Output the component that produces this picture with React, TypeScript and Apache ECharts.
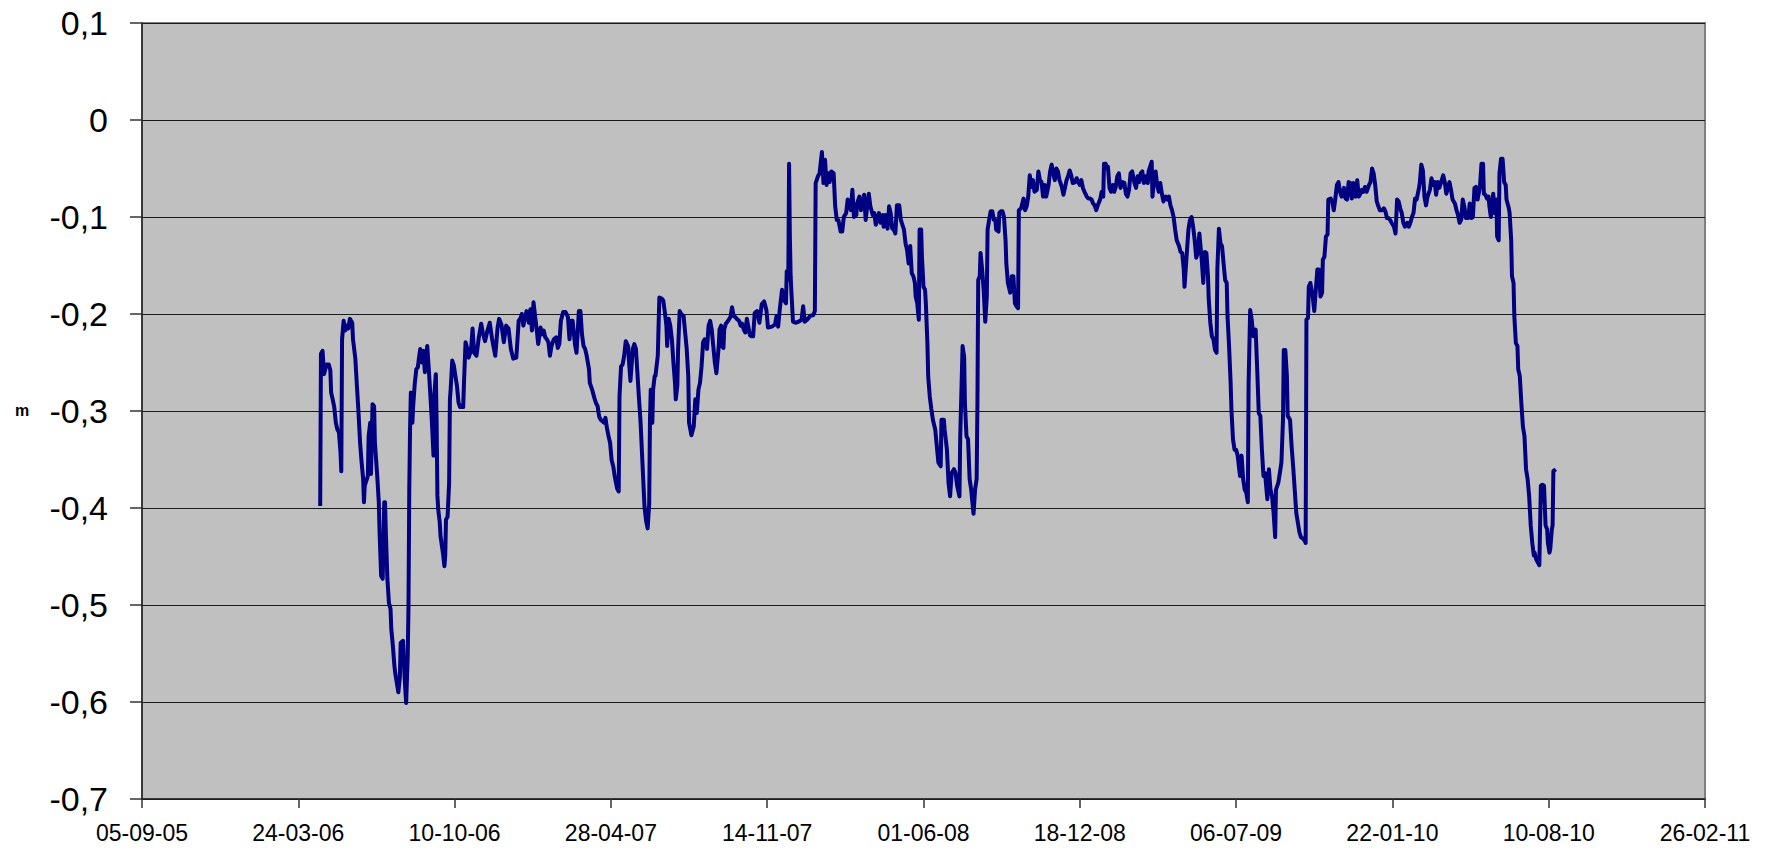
import React, { useEffect, useRef } from "react";
import * as echarts from "echarts";

// Dates are Excel serial day numbers (38600 = 05-09-05), levels in metres.
const period2006: [number, number][] = [
  [38828, -0.398], [38829, -0.241], [38831, -0.238], [38833, -0.262], [38836, -0.252], [38839, -0.252],
  [38841, -0.258], [38842, -0.281], [38844, -0.288], [38846, -0.296], [38848, -0.312], [38850, -0.319],
  [38852, -0.322], [38854, -0.343], [38855, -0.362], [38856, -0.226], [38858, -0.207], [38860, -0.217],
  [38862, -0.212], [38864, -0.215], [38866, -0.205], [38869, -0.209], [38870, -0.226], [38873, -0.246],
  [38875, -0.274], [38877, -0.301], [38879, -0.332], [38881, -0.353], [38883, -0.37], [38884, -0.394],
  [38885, -0.377], [38887, -0.372], [38889, -0.367], [38890, -0.326], [38892, -0.312], [38893, -0.365],
  [38895, -0.293], [38897, -0.295], [38898, -0.332], [38901, -0.367], [38903, -0.394], [38904, -0.425],
  [38906, -0.47], [38908, -0.473], [38910, -0.394], [38911, -0.394], [38912, -0.425], [38914, -0.473],
  [38916, -0.498], [38918, -0.504], [38919, -0.525], [38921, -0.542], [38923, -0.563], [38924, -0.57],
  [38926, -0.58], [38928, -0.59], [38930, -0.574], [38931, -0.539], [38934, -0.537], [38936, -0.574],
  [38938, -0.601], [38940, -0.553], [38941, -0.501], [38942, -0.381], [38943, -0.319], [38944, -0.281],
  [38946, -0.312], [38947, -0.295], [38949, -0.272], [38951, -0.257], [38953, -0.255], [38954, -0.248],
  [38956, -0.236], [38958, -0.25], [38960, -0.238], [38962, -0.26], [38964, -0.24], [38965, -0.233],
  [38967, -0.257], [38969, -0.284], [38971, -0.312], [38973, -0.346], [38974, -0.284], [38976, -0.262],
  [38977, -0.312], [38978, -0.387], [38979, -0.401], [38981, -0.415], [38982, -0.429], [38985, -0.446],
  [38987, -0.46], [38988, -0.449], [38989, -0.412], [38991, -0.409], [38993, -0.374], [38994, -0.288],
  [38995, -0.277], [38997, -0.248], [38999, -0.253], [39001, -0.264], [39003, -0.274], [39005, -0.291],
  [39007, -0.296], [39011, -0.296], [39012, -0.271], [39014, -0.229], [39016, -0.235], [39018, -0.245],
  [39021, -0.237], [39023, -0.215], [39025, -0.24], [39028, -0.243], [39031, -0.224], [39034, -0.21],
  [39036, -0.219], [39039, -0.228], [39042, -0.217], [39045, -0.209], [39048, -0.226], [39052, -0.243],
  [39055, -0.214], [39057, -0.205], [39060, -0.211], [39063, -0.229], [39066, -0.212], [39069, -0.215],
  [39072, -0.236], [39075, -0.246], [39079, -0.245], [39082, -0.207],
];

const period2007: [number, number][] = [
  [39084, -0.205], [39086, -0.2], [39088, -0.212], [39092, -0.197], [39095, -0.209], [39097, -0.195],
  [39099, -0.217], [39101, -0.188], [39103, -0.202], [39105, -0.216], [39107, -0.231], [39110, -0.214],
  [39112, -0.221], [39114, -0.217], [39116, -0.224], [39118, -0.226], [39120, -0.229], [39122, -0.243],
  [39124, -0.233], [39127, -0.226], [39130, -0.224], [39132, -0.235], [39134, -0.231], [39136, -0.207],
  [39139, -0.198], [39142, -0.198], [39145, -0.203], [39147, -0.226], [39149, -0.207], [39151, -0.207],
  [39154, -0.231], [39156, -0.24], [39159, -0.197], [39161, -0.197], [39163, -0.221], [39165, -0.233],
  [39167, -0.236], [39169, -0.243], [39172, -0.257], [39173, -0.271], [39176, -0.278], [39179, -0.287],
  [39181, -0.292], [39183, -0.295], [39185, -0.306], [39187, -0.309], [39191, -0.312], [39193, -0.307],
  [39195, -0.318], [39197, -0.326], [39199, -0.333], [39201, -0.351], [39203, -0.357], [39205, -0.368],
  [39208, -0.38], [39210, -0.383], [39211, -0.285], [39213, -0.254], [39215, -0.252], [39217, -0.243],
  [39219, -0.228], [39222, -0.233], [39223, -0.247], [39225, -0.269], [39228, -0.236], [39230, -0.231],
  [39232, -0.236], [39234, -0.262], [39236, -0.288], [39238, -0.312], [39240, -0.347], [39243, -0.399],
  [39245, -0.413], [39247, -0.421], [39249, -0.396], [39250, -0.309], [39251, -0.278], [39253, -0.312],
  [39254, -0.278], [39256, -0.264], [39257, -0.264], [39260, -0.243], [39261, -0.212], [39262, -0.183],
  [39265, -0.184], [39267, -0.186], [39269, -0.198], [39271, -0.212], [39272, -0.233], [39274, -0.205],
  [39276, -0.212], [39278, -0.226], [39280, -0.25], [39282, -0.271], [39283, -0.288], [39285, -0.274],
  [39286, -0.236], [39288, -0.197], [39290, -0.2], [39293, -0.202], [39295, -0.219], [39297, -0.236],
  [39299, -0.264], [39300, -0.312], [39303, -0.325], [39306, -0.316], [39308, -0.288], [39310, -0.302],
  [39312, -0.278], [39314, -0.271], [39316, -0.254], [39318, -0.229], [39320, -0.226], [39323, -0.236],
  [39325, -0.212], [39327, -0.207], [39329, -0.216], [39331, -0.233], [39333, -0.25], [39335, -0.261],
  [39338, -0.233], [39339, -0.216], [39341, -0.212], [39342, -0.233], [39344, -0.235], [39345, -0.216],
  [39347, -0.21], [39350, -0.207], [39353, -0.203], [39355, -0.193], [39357, -0.202], [39359, -0.203],
  [39361, -0.205], [39364, -0.207], [39366, -0.212], [39368, -0.21], [39370, -0.216], [39372, -0.219],
  [39374, -0.205], [39376, -0.214], [39378, -0.222],
];

const period2008a: [number, number][] = [
  [39380, -0.223], [39382, -0.223], [39384, -0.199], [39387, -0.197], [39390, -0.209], [39393, -0.19],
  [39396, -0.187], [39399, -0.196], [39401, -0.214], [39406, -0.213], [39410, -0.211], [39412, -0.202],
  [39414, -0.213], [39416, -0.196], [39419, -0.175], [39421, -0.185], [39424, -0.189], [39425, -0.156],
  [39427, -0.165], [39428, -0.045], [39429, -0.12], [39430, -0.161], [39431, -0.178], [39433, -0.208],
  [39436, -0.209], [39440, -0.208], [39444, -0.206], [39446, -0.192], [39448, -0.208], [39451, -0.206],
  [39455, -0.202], [39459, -0.201], [39461, -0.197], [39462, -0.065], [39465, -0.058], [39467, -0.055],
  [39470, -0.033], [39472, -0.065], [39474, -0.041], [39476, -0.067], [39478, -0.055], [39480, -0.064],
  [39482, -0.053], [39485, -0.055], [39487, -0.089], [39489, -0.103], [39491, -0.103], [39494, -0.115],
  [39496, -0.115], [39498, -0.1], [39501, -0.096], [39503, -0.082], [39505, -0.088], [39507, -0.093],
  [39509, -0.072], [39511, -0.1], [39514, -0.098], [39515, -0.086], [39518, -0.079], [39520, -0.093],
  [39522, -0.084], [39524, -0.077], [39526, -0.103], [39528, -0.089], [39530, -0.076], [39532, -0.089],
  [39535, -0.098], [39537, -0.096], [39539, -0.108], [39541, -0.101], [39543, -0.096], [39545, -0.106],
  [39548, -0.098], [39549, -0.11], [39551, -0.098], [39554, -0.112], [39556, -0.089], [39558, -0.096],
  [39560, -0.112], [39562, -0.113], [39564, -0.117], [39566, -0.088], [39569, -0.088], [39571, -0.103],
  [39573, -0.108], [39575, -0.113], [39577, -0.127], [39579, -0.134], [39581, -0.148], [39583, -0.13],
  [39585, -0.158], [39587, -0.161], [39589, -0.168], [39590, -0.182], [39592, -0.189], [39594, -0.206],
  [39595, -0.113], [39597, -0.113], [39598, -0.141], [39600, -0.172], [39602, -0.175], [39603, -0.189],
  [39605, -0.23], [39606, -0.264],
];

const period2008b: [number, number][] = [
  [39608, -0.285], [39610, -0.298], [39612, -0.309], [39615, -0.319], [39617, -0.336], [39619, -0.353],
  [39622, -0.357], [39623, -0.309], [39626, -0.309], [39627, -0.319], [39630, -0.34], [39632, -0.374],
  [39634, -0.388], [39636, -0.364], [39639, -0.36], [39641, -0.364], [39643, -0.377], [39646, -0.388],
  [39647, -0.326], [39650, -0.233], [39652, -0.244], [39653, -0.292], [39655, -0.326], [39657, -0.329],
  [39659, -0.37], [39661, -0.381], [39664, -0.406], [39666, -0.381], [39668, -0.37], [39669, -0.292],
  [39670, -0.165], [39672, -0.161], [39673, -0.137], [39675, -0.154], [39677, -0.175], [39679, -0.208],
  [39681, -0.182], [39682, -0.113], [39684, -0.103], [39686, -0.094], [39688, -0.094], [39690, -0.103],
  [39692, -0.103], [39693, -0.113], [39696, -0.115], [39697, -0.096], [39699, -0.094], [39701, -0.094],
  [39703, -0.1], [39705, -0.124], [39706, -0.148], [39708, -0.168], [39711, -0.178], [39713, -0.161],
  [39715, -0.161], [39717, -0.189], [39719, -0.192], [39721, -0.194], [39722, -0.093], [39725, -0.091],
  [39728, -0.081], [39730, -0.093], [39732, -0.089], [39734, -0.079], [39736, -0.057], [39738, -0.069],
  [39740, -0.062], [39742, -0.074], [39745, -0.072], [39747, -0.053], [39749, -0.062], [39751, -0.064],
  [39753, -0.079], [39755, -0.067], [39757, -0.079], [39760, -0.067], [39762, -0.053], [39764, -0.046],
  [39766, -0.055], [39768, -0.062], [39770, -0.05], [39772, -0.053], [39774, -0.062], [39777, -0.069],
  [39779, -0.077], [39781, -0.07], [39783, -0.062], [39785, -0.058], [39787, -0.052], [39789, -0.057],
  [39791, -0.065], [39794, -0.064], [39796, -0.06], [39798, -0.064], [39800, -0.067], [39802, -0.062],
  [39804, -0.07], [39806, -0.074], [39809, -0.079], [39811, -0.081], [39813, -0.081],
];

const period2009: [number, number][] = [
  [39815, -0.082], [39817, -0.086], [39819, -0.088], [39821, -0.093], [39823, -0.088], [39826, -0.082],
  [39828, -0.074], [39830, -0.079], [39831, -0.045], [39833, -0.045], [39835, -0.05], [39836, -0.048],
  [39838, -0.07], [39840, -0.074], [39842, -0.067], [39844, -0.074], [39846, -0.069], [39848, -0.058],
  [39850, -0.055], [39852, -0.07], [39855, -0.064], [39857, -0.065], [39859, -0.076], [39861, -0.079],
  [39863, -0.072], [39865, -0.055], [39867, -0.053], [39870, -0.065], [39872, -0.07], [39874, -0.058],
  [39876, -0.064], [39878, -0.055], [39880, -0.053], [39882, -0.065], [39884, -0.058], [39887, -0.065],
  [39888, -0.053], [39890, -0.048], [39892, -0.043], [39893, -0.079], [39895, -0.062], [39897, -0.053],
  [39899, -0.067], [39901, -0.074], [39903, -0.065], [39905, -0.076], [39907, -0.084], [39910, -0.079],
  [39912, -0.082], [39914, -0.079], [39916, -0.088], [39918, -0.093], [39920, -0.1], [39922, -0.113],
  [39924, -0.124], [39927, -0.13], [39929, -0.136], [39931, -0.137], [39933, -0.154], [39934, -0.172],
  [39936, -0.148], [39939, -0.113], [39941, -0.103], [39943, -0.1], [39945, -0.11], [39947, -0.124],
  [39949, -0.142], [39951, -0.137], [39953, -0.117], [39956, -0.144], [39958, -0.168], [39960, -0.136],
  [39962, -0.137], [39964, -0.161], [39965, -0.185], [39967, -0.209], [39969, -0.223], [39971, -0.226],
  [39973, -0.237], [39975, -0.24], [39976, -0.154], [39978, -0.112], [39980, -0.127], [39982, -0.13],
  [39984, -0.148], [39986, -0.165], [39988, -0.168], [39989, -0.202], [39991, -0.233], [39993, -0.271],
  [39994, -0.298], [39996, -0.329], [39998, -0.34], [40000, -0.34], [40002, -0.346], [40005, -0.367],
  [40007, -0.346], [40009, -0.37], [40011, -0.381], [40013, -0.384], [40015, -0.394], [40016, -0.271],
  [40018, -0.196], [40020, -0.206], [40022, -0.223], [40025, -0.216], [40027, -0.257], [40029, -0.302],
  [40031, -0.305], [40033, -0.34], [40035, -0.367], [40037, -0.364], [40040, -0.391], [40042, -0.36],
  [40044, -0.381], [40046, -0.388], [40048, -0.405], [40050, -0.43], [40051, -0.381], [40054, -0.374],
  [40056, -0.364], [40058, -0.353], [40060, -0.309], [40061, -0.237], [40063, -0.237], [40065, -0.264],
  [40066, -0.305], [40069, -0.309], [40071, -0.336], [40073, -0.357], [40075, -0.381], [40077, -0.405],
  [40079, -0.415], [40081, -0.425], [40083, -0.43], [40086, -0.432], [40088, -0.434], [40089, -0.436],
  [40090, -0.206], [40092, -0.204], [40093, -0.172], [40095, -0.168], [40098, -0.182], [40100, -0.197],
  [40102, -0.175], [40104, -0.154], [40106, -0.154], [40108, -0.182], [40110, -0.178], [40111, -0.144],
  [40113, -0.141], [40115, -0.12], [40117, -0.118], [40118, -0.082], [40121, -0.081], [40123, -0.084],
  [40125, -0.093], [40127, -0.081], [40129, -0.067], [40131, -0.064], [40133, -0.074], [40135, -0.079],
  [40138, -0.07], [40140, -0.081], [40142, -0.082], [40144, -0.064], [40146, -0.065], [40148, -0.081],
  [40150, -0.065], [40153, -0.079], [40155, -0.062], [40157, -0.079], [40159, -0.076], [40161, -0.072],
  [40163, -0.074], [40165, -0.069], [40167, -0.074], [40170, -0.067], [40172, -0.064], [40174, -0.05],
  [40176, -0.055], [40178, -0.067],
];

const period2010: [number, number][] = [
  [40180, -0.084], [40182, -0.089], [40184, -0.093], [40187, -0.093], [40189, -0.091], [40191, -0.094],
  [40193, -0.101], [40195, -0.101], [40197, -0.103], [40199, -0.106], [40202, -0.11], [40204, -0.117],
  [40206, -0.082], [40208, -0.084], [40210, -0.091], [40212, -0.096], [40214, -0.106], [40216, -0.11],
  [40219, -0.106], [40221, -0.11], [40223, -0.106], [40225, -0.1], [40227, -0.096], [40229, -0.081],
  [40231, -0.082], [40234, -0.07], [40235, -0.065], [40237, -0.046], [40239, -0.052], [40241, -0.079],
  [40243, -0.088], [40245, -0.079], [40248, -0.072], [40250, -0.06], [40252, -0.067], [40254, -0.064],
  [40256, -0.077], [40258, -0.064], [40260, -0.07], [40262, -0.065], [40265, -0.057], [40267, -0.064],
  [40269, -0.076], [40271, -0.07], [40273, -0.064], [40275, -0.072], [40277, -0.082], [40280, -0.086],
  [40282, -0.093], [40284, -0.098], [40286, -0.106], [40288, -0.103], [40290, -0.082], [40292, -0.089],
  [40294, -0.101], [40297, -0.101], [40299, -0.086], [40301, -0.101], [40303, -0.1], [40305, -0.07],
  [40307, -0.069], [40309, -0.082], [40312, -0.069], [40314, -0.045], [40316, -0.045], [40317, -0.076],
  [40319, -0.077], [40321, -0.081], [40323, -0.079], [40324, -0.088], [40326, -0.1], [40329, -0.076],
  [40331, -0.096], [40333, -0.082], [40334, -0.12], [40336, -0.124], [40337, -0.055], [40339, -0.04],
  [40341, -0.04], [40343, -0.064], [40345, -0.067], [40346, -0.082], [40349, -0.091], [40350, -0.096],
  [40352, -0.124], [40353, -0.161], [40355, -0.168], [40356, -0.202], [40358, -0.23], [40360, -0.233],
  [40361, -0.257], [40363, -0.264], [40365, -0.292], [40367, -0.316], [40369, -0.326], [40371, -0.36],
  [40373, -0.37], [40375, -0.388], [40377, -0.418], [40379, -0.436], [40381, -0.449], [40382, -0.446],
  [40384, -0.453], [40386, -0.456], [40388, -0.459], [40390, -0.377], [40392, -0.376], [40394, -0.377],
  [40396, -0.418], [40398, -0.422], [40399, -0.436], [40401, -0.446], [40402, -0.442], [40404, -0.422],
  [40405, -0.418], [40406, -0.362], [40409, -0.36],
];

const X_MIN = 38600; // 05-09-05
const X_MAX = 40600; // 26-02-11
const X_STEP = 200;
const Y_MIN = -0.7;
const Y_MAX = 0.1;
const Y_STEP = 0.1;
const Y_UNIT = "m";

const FONT = "'Liberation Sans', Arial, sans-serif";

function excelToLabel(serial: number): string {
  const d = new Date(Date.UTC(1899, 11, 30) + Math.round(serial) * 86400000);
  const dd = String(d.getUTCDate()).padStart(2, "0");
  const mm = String(d.getUTCMonth() + 1).padStart(2, "0");
  const yy = String(d.getUTCFullYear() % 100).padStart(2, "0");
  return `${dd}-${mm}-${yy}`;
}

function yLabel(v: number): string {
  const r = Math.round(v * 10) / 10;
  if (r === 0) return "0";
  return String(r).replace(".", ",");
}

export default function App() {
  const ref = useRef<HTMLDivElement>(null);

  useEffect(() => {
    if (!ref.current) return;
    const chart = echarts.init(ref.current, undefined, { renderer: "svg" });
    const data = [...period2006, ...period2007, ...period2008a, ...period2008b, ...period2009, ...period2010];
    chart.setOption({
      animation: false,
      backgroundColor: "#ffffff",
      grid: {
        left: 142,
        top: 23,
        right: 65,
        bottom: 51,
        show: true,
        backgroundColor: "#C0C0C0",
        borderColor: "#808080",
        borderWidth: 2,
        containLabel: false,
      },
      graphic: [
        {
          type: "text",
          left: 15,
          top: 402,
          style: { text: Y_UNIT, fontSize: 16, fontWeight: "bold", fontFamily: FONT, fill: "#000" },
        },
      ],
      xAxis: {
        type: "value",
        min: X_MIN,
        max: X_MAX,
        interval: X_STEP,
        axisLine: { show: true, onZero: false, lineStyle: { color: "#222", width: 1.5 } },
        axisTick: { show: true, inside: false, length: 9, lineStyle: { color: "#333", width: 1.5 } },
        axisLabel: {
          margin: 22,
          fontSize: 23,
          fontFamily: FONT,
          color: "#000",
          formatter: (v: number) => excelToLabel(v),
          showMinLabel: true,
          showMaxLabel: true,
        },
        splitLine: { show: false },
      },
      yAxis: {
        type: "value",
        min: Y_MIN,
        max: Y_MAX,
        interval: Y_STEP,
        axisLine: { show: true, onZero: false, lineStyle: { color: "#222", width: 1.5 } },
        axisTick: { show: true, inside: false, length: 12, lineStyle: { color: "#333", width: 1.5 } },
        axisLabel: {
          margin: 34,
          fontSize: 34,
          fontFamily: FONT,
          color: "#000",
          formatter: (v: number) => yLabel(v),
        },
        splitLine: { show: true, lineStyle: { color: "#1a1a1a", width: 1 } },
      },
      series: [
        {
          type: "line",
          data,
          showSymbol: false,
          symbol: "none",
          lineStyle: { color: "#000080", width: 4, join: "round" },
          itemStyle: { color: "#000080" },
        },
      ],
    });
    return () => chart.dispose();
  }, []);

  return (
    <div
      ref={ref}
      style={{ position: "fixed", left: 0, top: 0, width: 1770, height: 850, background: "#fff" }}
    />
  );
}
